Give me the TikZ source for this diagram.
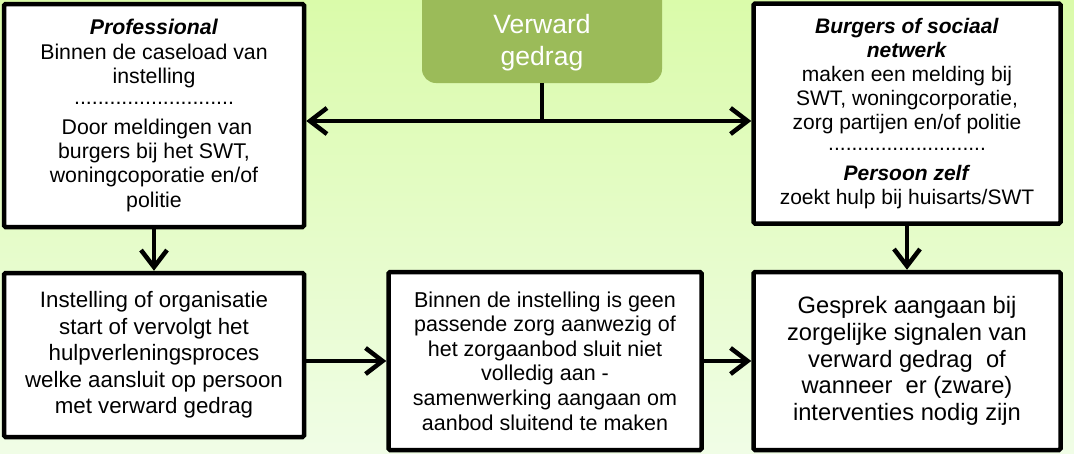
\documentclass[tikz,border=0pt]{standalone}
\usepackage{fontspec}
\setmainfont{Liberation Sans}
\usetikzlibrary{arrows.meta,calc}
\definecolor{bgtop}{HTML}{DAFBAA}
\definecolor{bgbot}{HTML}{F0FDE6}
\definecolor{olive}{HTML}{9BBB59}
\tikzset{
  box/.style={draw=black, line width=4.5pt, fill=white, rounded corners=1.5pt, align=center, inner sep=0pt},
  conn/.style={line width=4.5pt},
  arr/.style={line width=4.5pt, -{Straight Barb[length=17pt,width=26pt]}},
}
\newcommand{\dotrow}{...........................}
\begin{document}
\begin{tikzpicture}[x=1pt,y=-1pt]
\shade[top color=bgtop, bottom color=bgbot] (0,0) rectangle (1074,453);
\useasboundingbox (0,0) rectangle (1074,453);
% green box
\node[fill=olive, rounded corners=14pt, minimum width=240pt, minimum height=110pt, inner sep=0pt,
      text=white, align=center, font=\fontsize{26.5}{32}\selectfont, text depth=0pt] (g) at (542,28) {\raisebox{-7pt}{\parbox{200pt}{\centering Verward\\gedrag}}};
% top boxes
\node[box, font=\fontsize{21.3}{24.3}\selectfont, minimum width=300pt, minimum height=223pt] (A) at (154,115.5) {\textbf{\textit{Professional}}\\Binnen de caseload van\\instelling\\[-3pt]\dotrow\\[5pt] ~Door meldingen van\\burgers bij het SWT,\\woningcoporatie en/of\\politie};
\node[box, font=\fontsize{21}{24}\selectfont, minimum width=307pt, minimum height=220pt] (B) at (907,113.5) {\textbf{\textit{Burgers of sociaal}}\\\textbf{\textit{netwerk}}\\maken een melding bij\\SWT, woningcorporatie,\\zorg partijen en/of politie\\[-3pt]\dotrow\\[6pt]\textbf{\textit{Persoon zelf}}\\zoekt hulp bij huisarts/SWT};
% bottom boxes
\node[box, font=\fontsize{22.3}{26.6}\selectfont, minimum width=300pt, minimum height=164pt] (C) at (154,355) {Instelling of organisatie\\start of vervolgt het\\hulpverleningsproces\\welke aansluit op persoon\\met verward gedrag};
\node[box, font=\fontsize{21.5}{24.6}\selectfont, minimum width=313pt, minimum height=178pt] (D) at (545,361) {Binnen de instelling is geen\\passende zorg aanwezig of\\het zorgaanbod sluit niet\\volledig aan -\\samenwerking aangaan om\\aanbod sluitend te maken};
\node[box, font=\fontsize{23.7}{26.7}\selectfont, minimum width=307pt, minimum height=178pt] (E) at (907,361) {Gesprek aangaan bij\\zorgelijke signalen van\\verward gedrag~ of\\wanneer~ er (zware)\\interventies nodig zijn};
% connectors
\coordinate (j) at (542,121);
\draw[conn] (g.south) -- (j);
\draw[arr] (j) -- (j -| A.east);
\draw[arr] (j) -- (j -| B.west);
\draw[arr] (A.south) -- (C.north);
\draw[arr] (B.south) -- (E.north);
\draw[arr] (D.west -| C.east) -- (D.west);
\draw[arr] (D.east) -- (E.west);
\end{tikzpicture}
\end{document}
